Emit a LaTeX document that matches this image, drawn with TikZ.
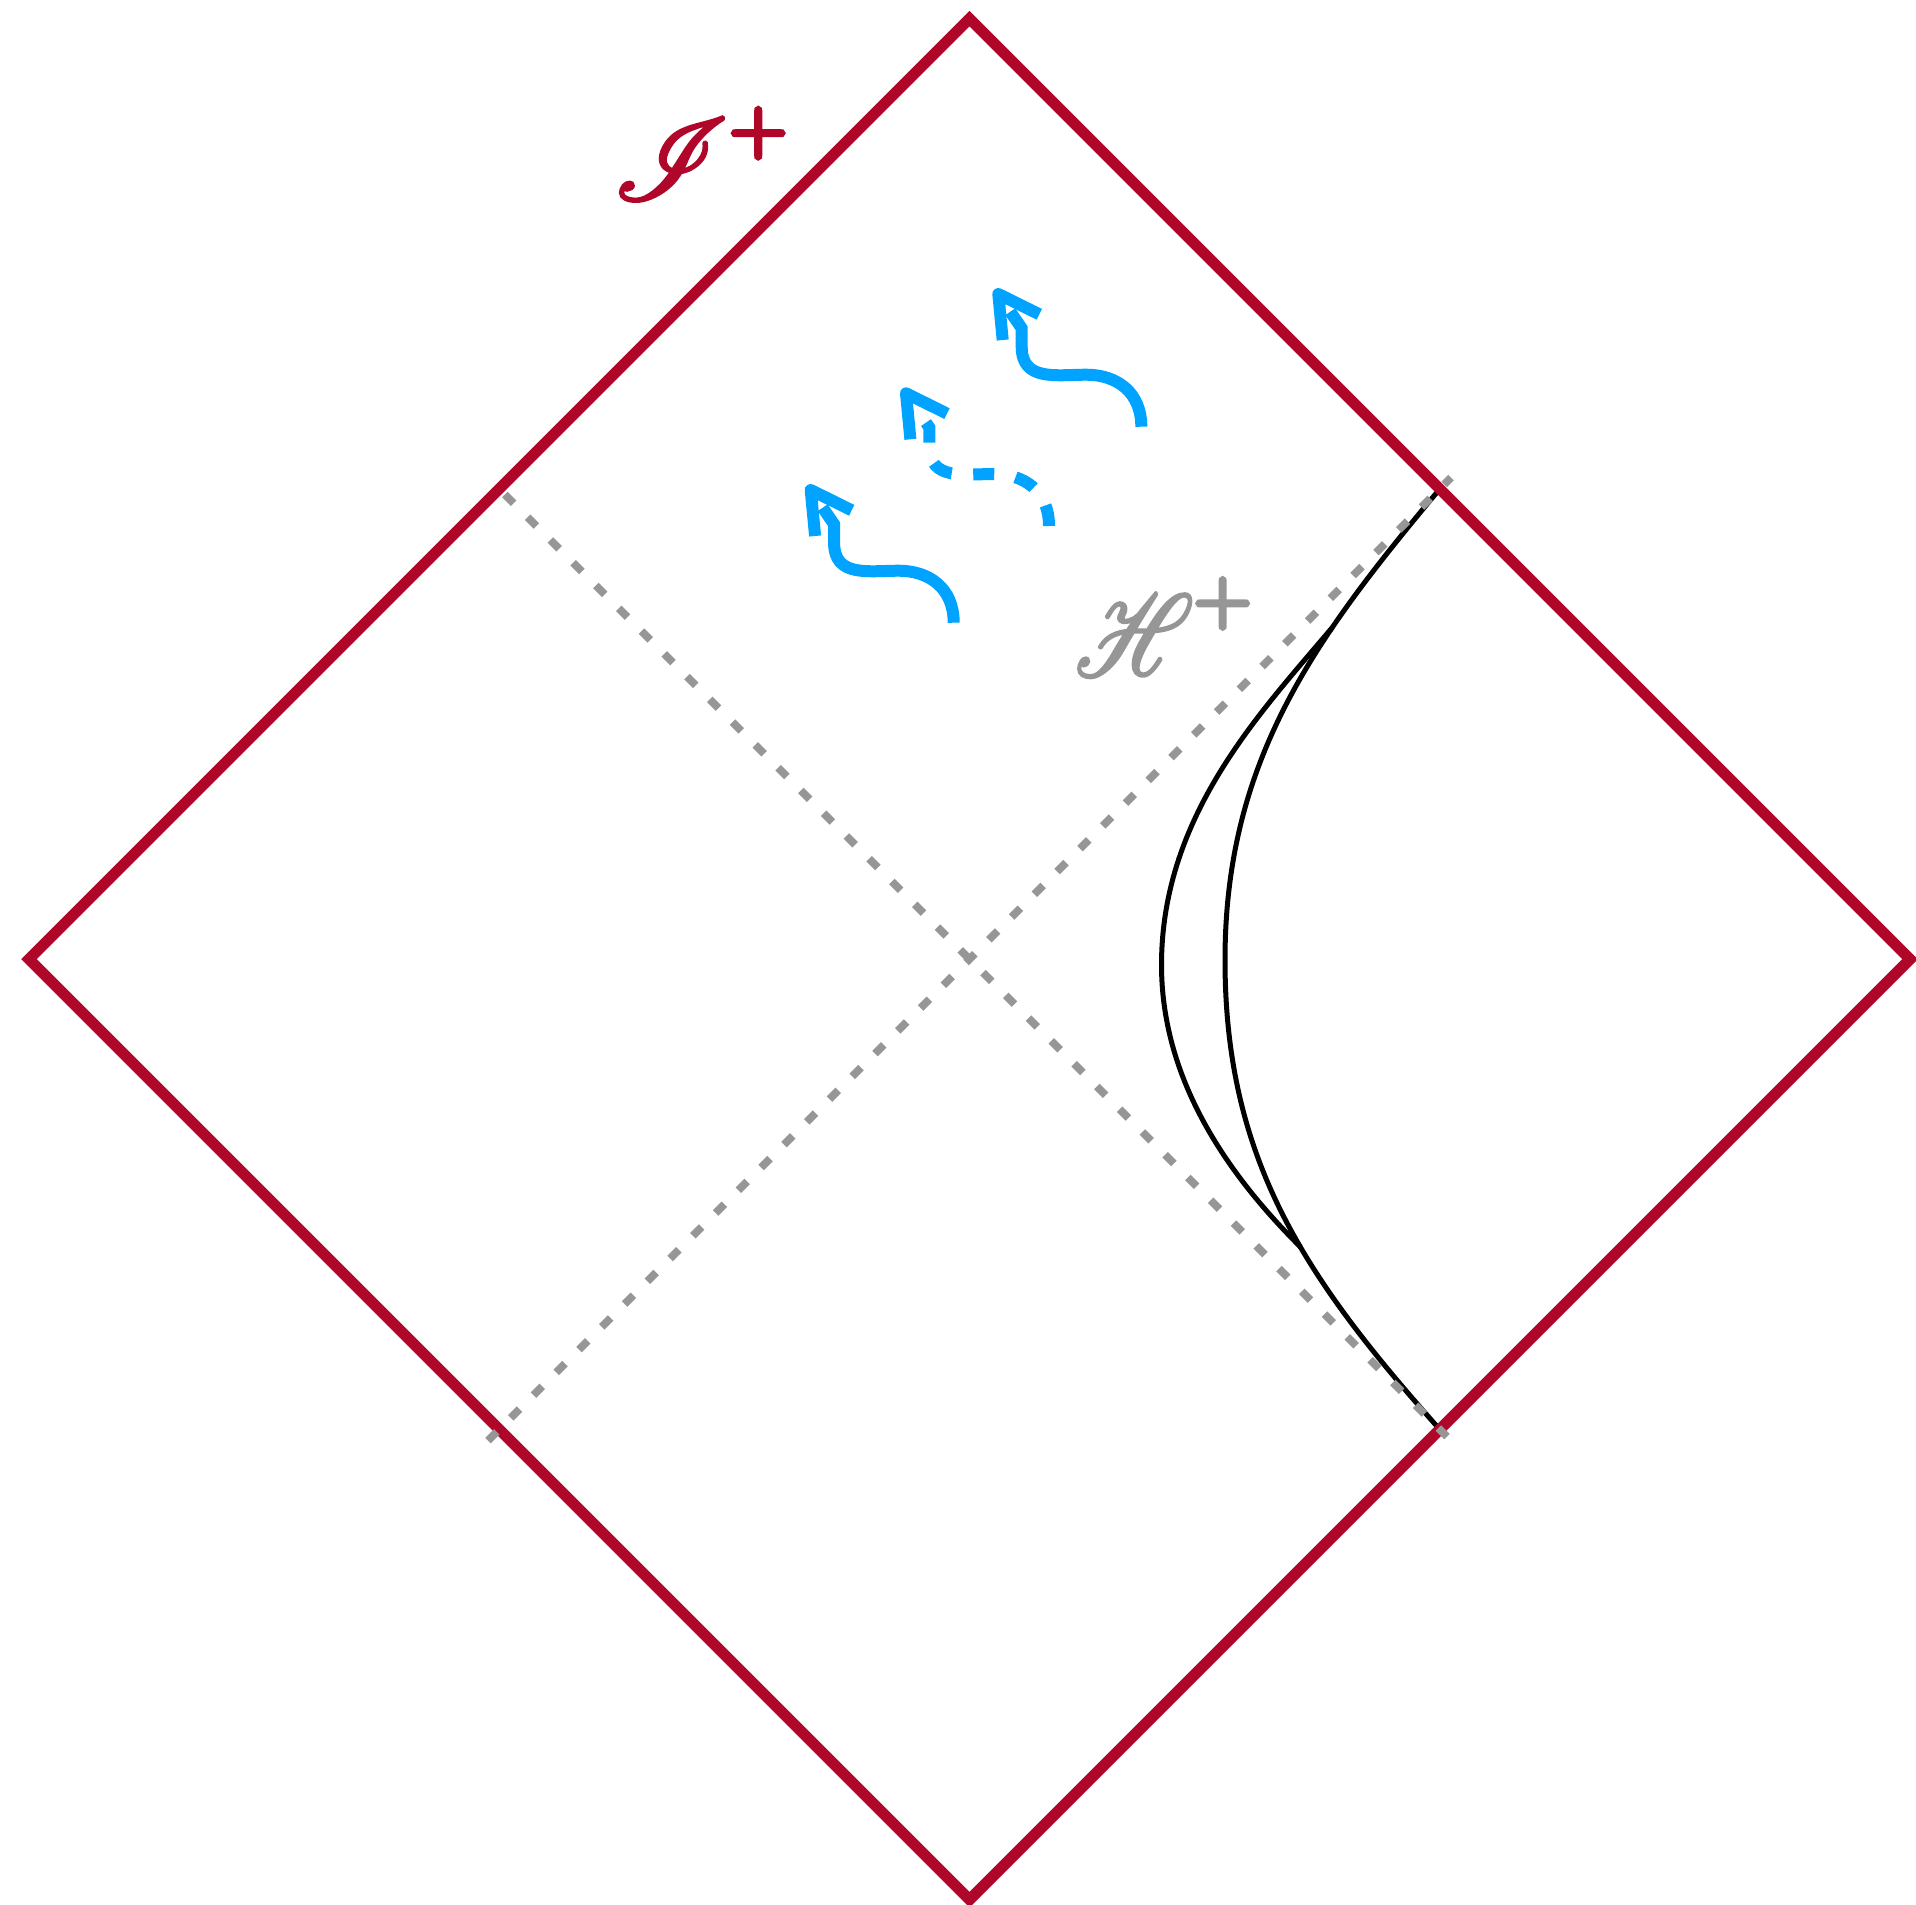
\documentclass[tikz,border=0pt]{standalone}
\usepackage{mathrsfs}
\usepackage{graphicx}
\definecolor{scrired}{RGB}{175,6,42}
\definecolor{sigblue}{RGB}{0,163,255}
\definecolor{horgray}{RGB}{150,150,150}
\newcommand\wavyarrow[4]{%
  \begin{scope}[shift={(#1,#2)}]
    \coordinate (#4) at (0,0);
    \draw[#3] (#4) .. controls (0,-35) and (-25,-52) .. (-55,-52)
      .. controls (-85,-52) and (-119.6,-45) .. (-119.6,-80)
      -- (-119.6,-98.4) -- (-131,-115);
    \draw[barb] (-138.6,-86.7) -- (-143,-132.7) -- (-102,-112.4);
  \end{scope}}
\newcommand\heavyon{\special{pdf:literal direct 2 Tr 0.26 w}}
\newcommand\heavierplus{\special{pdf:literal direct 2 Tr 0.55 w}}
\newcommand\heavyoff{\special{pdf:literal direct 0 Tr}}
\newcommand\smallplus{\raisebox{0.66pt}{\scalebox{0.83}{\heavierplus$\scriptstyle+$\heavyoff}}}
\newcommand\scrilabel[1]{\scalebox{5.28}{\fontsize{10.95}{13}\selectfont
  \heavyon$#1$\heavyoff}}
\newcommand\narrowH{{\scalebox{0.81}[1]{\heavyon$\mathscr{H}$\heavyoff}}}
\begin{document}
\begin{tikzpicture}[x=0.5pt,y=-0.5pt,
  diamondline/.style={draw=scrired, line width=5.5pt, line join=miter},
  horizon/.style={draw=horgray, line width=3.9pt, dash pattern=on 6.2pt off 9.9pt},
  worldline/.style={draw=black, line width=2.5pt},
  signal/.style={draw=sigblue, line width=6pt},
  sigdash/.style={signal, dash pattern=on 10.5pt off 10.8pt},
  barb/.style={draw=sigblue, line width=6pt, line join=round},
  lbl/.style={inner sep=0pt}]
\useasboundingbox (0,0) rectangle (1916,1905);
% corners of the diagram
\coordinate (top) at (969.5,18.7);
\coordinate (right) at (1910,959.2);
\coordinate (bottom) at (969.5,1899.7);
\coordinate (left) at (29,959.2);
\coordinate (ur) at (1439.75,488.95);
\coordinate (lr) at (1439.75,1429.45);
% horizon end points
\coordinate (a1) at (488,1440.7);
\coordinate (a2) at (1451,477.7);
\coordinate (b1) at (504.8,494.5);
\coordinate (b2) at (1447,1436.7);
% world lines
\draw[worldline] (ur) .. controls (1315,638) and (1225,760) .. (1225,960)
  .. controls (1225,1160) and (1305,1278) .. (lr);
\coordinate (j1) at (1332.5,627.2);
\coordinate (j2) at (1300.5,1247);
\draw[worldline] (j1) .. controls (1261,712) and (1161.5,815) .. (1161.5,965)
  .. controls (1161.5,1075) and (1222.2,1169.2) .. (j2);
% diamond
\draw[diamondline] (top) -- (right) -- (bottom) -- (left) -- cycle;
% horizons
\draw[horizon] (a1) -- (a2);
\draw[horizon] (b1) -- (b2);
% signals
\wavyarrow{1141.3}{426.7}{signal}{s1}
\wavyarrow{1049}{526}{sigdash}{s2}
\wavyarrow{953.7}{622.7}{signal}{s3}
% labels
\node[lbl, text=scrired] (scri) at (703,154) {\scrilabel{\mathscr{I}^{\smallplus}}};
\node[lbl, text=horgray] (hor) at (1166,627) {\scrilabel{\narrowH^{\smallplus}}};
\end{tikzpicture}
\end{document}
